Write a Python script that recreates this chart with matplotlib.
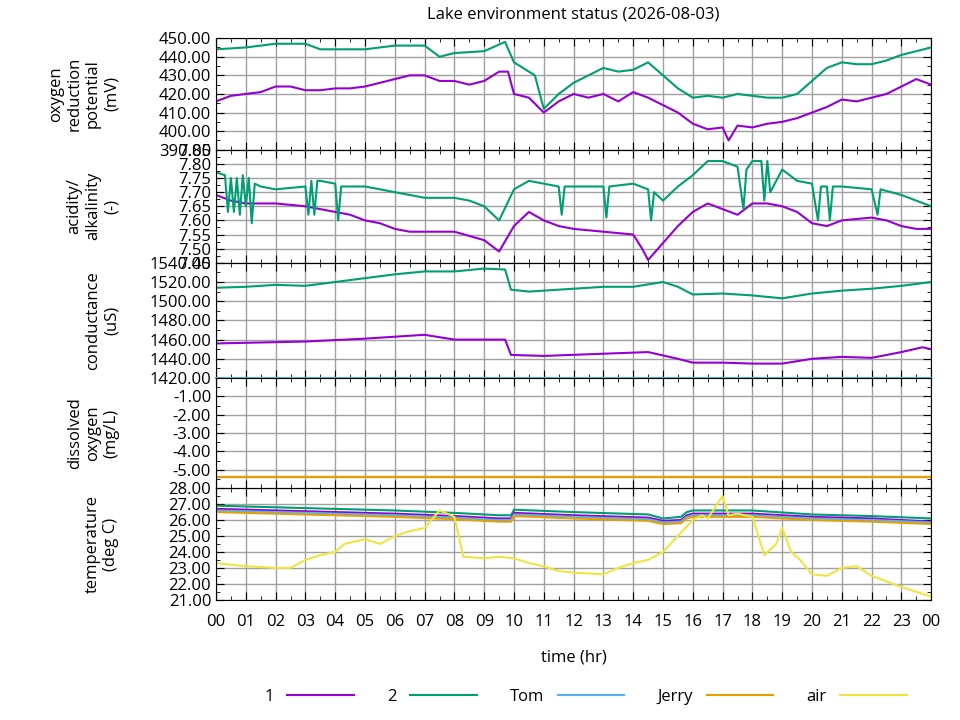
import matplotlib
matplotlib.use('Agg')
import matplotlib.pyplot as plt
from matplotlib.ticker import FormatStrFormatter, MultipleLocator, AutoMinorLocator

plt.rcParams['font.family'] = ['Open Sans', 'DejaVu Sans']

c1 = '#9400d3'
c2 = '#009e73'
c_tom = '#56b4e9'
c_jerry = '#e69f00'
c_air = '#f0e442'

# oxygen reduction potential (mV)
orp1_t = [0, 0.5, 1, 1.5, 2, 2.5, 3, 3.5, 4, 4.5, 5, 5.5, 6, 6.5, 7, 7.5, 8, 8.5, 9, 9.5, 9.8, 10,
          10.5, 11, 11.5, 12, 12.5, 13, 13.5, 14, 14.5, 15, 15.5, 16, 16.5, 17, 17.2, 17.5, 18, 18.5,
          19, 19.5, 20, 20.5, 21, 21.5, 22, 22.5, 23, 23.5, 24]
orp1_v = [416, 419, 420, 421, 424, 424, 422, 422, 423, 423, 424, 426, 428, 430, 430, 427, 427, 425,
          427, 432, 432, 420, 418, 410, 416, 420, 418, 420, 416, 421, 418, 414, 410, 404, 401, 402,
          395, 403, 402, 404, 405, 407, 410, 413, 417, 416, 418, 420, 424, 428, 425]
orp2_t = [0, 1, 2, 3, 3.5, 4, 5, 6, 7, 7.5, 8, 9, 9.7, 10, 10.7, 11, 11.5, 12, 12.5, 13, 13.5, 14,
          14.5, 15, 15.5, 16, 16.5, 17, 17.5, 18, 18.5, 19, 19.5, 20, 20.5, 21, 21.5, 22, 22.5, 23,
          23.5, 24]
orp2_v = [444, 445, 447, 447, 444, 444, 444, 446, 446, 440, 442, 443, 448, 437, 430, 412, 420, 426,
          430, 434, 432, 433, 437, 430, 423, 418, 419, 418, 420, 419, 418, 418, 420, 427, 434, 437,
          436, 436, 438, 441, 443, 445]

# acidity/alkalinity
ph1_t = [0, 0.5, 1, 2, 3, 3.5, 4, 4.5, 5, 5.5, 6, 6.5, 7, 8, 9, 9.5, 10, 10.5, 11, 11.5, 12, 13,
         14, 14.3, 14.5, 15, 15.5, 16, 16.5, 17, 17.5, 18, 18.5, 19, 19.5, 20, 20.5, 21, 22, 22.5,
         23, 23.5, 24]
ph1_v = [7.69, 7.67, 7.66, 7.66, 7.65, 7.64, 7.63, 7.62, 7.60, 7.59, 7.57, 7.56, 7.56, 7.56, 7.53,
         7.49, 7.58, 7.63, 7.60, 7.58, 7.57, 7.56, 7.55, 7.50, 7.46, 7.52, 7.58, 7.63, 7.66, 7.64,
         7.62, 7.66, 7.66, 7.65, 7.63, 7.59, 7.58, 7.60, 7.61, 7.60, 7.58, 7.57, 7.57]
ph2_t = [0, 0.3, 0.4, 0.5, 0.6, 0.7, 0.8, 0.9, 1.0, 1.1, 1.2, 1.3, 1.5, 2, 3, 3.1, 3.2, 3.3, 3.4,
         3.5, 4, 4.1, 4.2, 4.5, 5, 6, 7, 8, 8.5, 9, 9.5, 10, 10.5, 11, 11.5, 11.6, 11.7, 12, 13,
         13.1, 13.2, 14, 14.5, 14.6, 14.7, 15, 15.5, 16, 16.5, 17, 17.5, 17.7, 17.8, 18, 18.3,
         18.4, 18.5, 18.6, 19, 19.5, 20, 20.2, 20.3, 20.5, 20.6, 20.7, 21, 22, 22.2, 22.3, 23,
         23.5, 24]
ph2_v = [7.77, 7.76, 7.63, 7.75, 7.63, 7.75, 7.62, 7.76, 7.65, 7.75, 7.59, 7.73, 7.72, 7.71, 7.72,
         7.62, 7.74, 7.62, 7.74, 7.74, 7.73, 7.60, 7.72, 7.72, 7.72, 7.70, 7.68, 7.68, 7.67, 7.65,
         7.60, 7.71, 7.74, 7.73, 7.72, 7.62, 7.72, 7.72, 7.72, 7.61, 7.72, 7.73, 7.71, 7.60, 7.70,
         7.67, 7.72, 7.76, 7.81, 7.81, 7.79, 7.64, 7.78, 7.81, 7.81, 7.67, 7.81, 7.70, 7.78, 7.74,
         7.73, 7.60, 7.72, 7.72, 7.60, 7.72, 7.72, 7.71, 7.62, 7.71, 7.69, 7.67, 7.65]

# conductance (uS)
ec1_t = [0, 3, 5, 7, 8, 9.7, 9.9, 11, 14.5, 15.5, 16, 17, 18, 19, 20, 21, 22, 23, 23.7, 24]
ec1_v = [1456, 1458, 1461, 1465, 1460, 1460, 1444, 1443, 1447, 1440, 1436, 1436, 1435, 1435, 1440,
         1442, 1441, 1447, 1452, 1450]
ec2_t = [0, 1, 2, 3, 4, 5, 6, 7, 8, 9, 9.7, 9.9, 10.5, 12, 13, 14, 15, 15.5, 16, 17, 18, 19, 20,
         21, 22, 23, 24]
ec2_v = [1514, 1515, 1517, 1516, 1520, 1524, 1528, 1531, 1531, 1534, 1533, 1512, 1510, 1513, 1515,
         1515, 1520, 1515, 1507, 1508, 1506, 1503, 1508, 1511, 1513, 1516, 1520]

# dissolved oxygen (mg/L)
do_t = [0, 24]
do_tom = [0.0, 0.0]
do_rest = [-5.4, -5.4]

# temperature (deg C)
tw_t = [0, 2, 4, 6, 8, 9.5, 9.9, 10, 12, 14.5, 15, 15.6, 15.8, 16, 18, 20, 22, 24]
t2_v = [26.9, 26.8, 26.7, 26.6, 26.45, 26.3, 26.3, 26.65, 26.5, 26.35, 26.1, 26.2, 26.5, 26.6,
        26.6, 26.35, 26.25, 26.1]
t1_v = [26.7, 26.6, 26.5, 26.4, 26.25, 26.1, 26.1, 26.45, 26.3, 26.15, 25.95, 26.0, 26.3, 26.4,
        26.4, 26.2, 26.1, 25.9]
ttom_v = [26.6, 26.5, 26.4, 26.3, 26.15, 26.0, 26.0, 26.35, 26.2, 26.05, 25.85, 25.9, 26.2, 26.3,
          26.3, 26.1, 26.0, 25.85]
tjerry_v = [26.5, 26.4, 26.3, 26.2, 26.05, 25.9, 25.9, 26.25, 26.1, 25.95, 25.75, 25.8, 26.1,
            26.2, 26.2, 26.0, 25.9, 25.75]
air_t = [0, 1, 2, 2.5, 3, 3.5, 4, 4.3, 5, 5.5, 6, 6.5, 7, 7.5, 8, 8.3, 9, 9.5, 10, 10.5, 11, 11.5,
         12, 13, 13.5, 14, 14.5, 15, 15.5, 16, 16.3, 16.5, 17, 17.2, 17.5, 18, 18.4, 18.8, 19,
         19.3, 19.6, 20, 20.5, 21, 21.5, 22, 23, 23.5, 24]
air_v = [23.3, 23.1, 23.0, 23.0, 23.5, 23.8, 24.0, 24.5, 24.8, 24.5, 25.0, 25.3, 25.5, 26.6, 26.2,
         23.7, 23.6, 23.7, 23.6, 23.3, 23.1, 22.8, 22.7, 22.6, 23.0, 23.3, 23.5, 24.0, 25.0, 26.0,
         26.3, 26.1, 27.5, 26.3, 26.4, 26.2, 23.8, 24.5, 25.5, 24.0, 23.5, 22.6, 22.5, 23.0, 23.1,
         22.5, 21.8, 21.5, 21.2]

hour_labels = ['%02d' % (h % 24) for h in range(25)]

fig = plt.figure(figsize=(9.6, 7.2), dpi=100)
edges = [0.947, 0.792, 0.635, 0.475, 0.322, 0.167]
left, width = 0.225, 0.745
axes = []
for i in range(5):
    ax = fig.add_axes([left, edges[i + 1], width, edges[i] - edges[i + 1]])
    axes.append(ax)

lw = 1.5
axes[0].plot(orp1_t, orp1_v, color=c1, lw=lw)
axes[0].plot(orp2_t, orp2_v, color=c2, lw=lw)
axes[0].set_ylim(390, 450)
axes[0].yaxis.set_major_locator(MultipleLocator(10))

axes[1].plot(ph1_t, ph1_v, color=c1, lw=lw)
axes[1].plot(ph2_t, ph2_v, color=c2, lw=lw)
axes[1].set_ylim(7.45, 7.85)
axes[1].yaxis.set_major_locator(MultipleLocator(0.05))

axes[2].plot(ec1_t, ec1_v, color=c1, lw=lw)
axes[2].plot(ec2_t, ec2_v, color=c2, lw=lw)
axes[2].set_ylim(1420, 1540)
axes[2].yaxis.set_major_locator(MultipleLocator(20))

axes[3].plot(do_t, do_rest, color=c1, lw=lw)
axes[3].plot(do_t, do_rest, color=c2, lw=lw)
axes[3].plot(do_t, do_tom, color=c_tom, lw=lw, clip_on=False)
axes[3].plot(do_t, do_rest, color=c_air, lw=lw)
axes[3].plot(do_t, do_rest, color=c_jerry, lw=lw)
axes[3].set_ylim(-6, 0)
axes[3].set_yticks([-1, -2, -3, -4, -5])

axes[4].plot(tw_t, t2_v, color=c2, lw=lw, label='2')
axes[4].plot(tw_t, t1_v, color=c1, lw=lw, label='1')
axes[4].plot(tw_t, ttom_v, color=c_tom, lw=lw, label='Tom')
axes[4].plot(tw_t, tjerry_v, color=c_jerry, lw=lw, label='Jerry')
axes[4].plot(air_t, air_v, color=c_air, lw=lw, label='air')
axes[4].set_ylim(21, 28)
axes[4].yaxis.set_major_locator(MultipleLocator(1))

ylabels = ['oxygen\nreduction\npotential\n(mV)', 'acidity/\nalkalinity\n(-)',
           'conductance\n(uS)', 'dissolved\noxygen\n(mg/L)', 'temperature\n(deg C)']
for ax, lab in zip(axes, ylabels):
    ax.set_xlim(0, 24)
    ax.set_xticks(range(25))
    ax.xaxis.set_minor_locator(MultipleLocator(0.5))
    ax.yaxis.set_minor_locator(AutoMinorLocator(2))
    ax.yaxis.set_major_formatter(FormatStrFormatter('%.2f'))
    ax.grid(True, color='#a0a0a0', lw=1)
    ax.set_axisbelow(True)
    ax.tick_params(direction='in', which='both', top=True, right=True, labelsize=12, length=6)
    ax.tick_params(which='minor', length=3)
    ax.set_ylabel(lab, fontsize=12, labelpad=8)
    ax.yaxis.set_label_coords(-0.135, 0.5)
    if ax is not axes[4]:
        ax.set_xticklabels([])
    else:
        ax.set_xticklabels(hour_labels)
        ax.tick_params(axis='x', pad=10)
        ax.set_xlabel('time (hr)', fontsize=12, labelpad=14)

axes[0].set_title('Lake environment status (2026-08-03)', fontsize=12, pad=14)

handles, labels = axes[4].get_legend_handles_labels()
order = [1, 0, 2, 3, 4]
fig.legend([handles[i] for i in order], [labels[i] for i in order], loc='lower center',
           bbox_to_anchor=(0.61, 0.0), ncol=5, frameon=False, markerfirst=False,
           handlelength=4, columnspacing=2.0, fontsize=12)

fig.savefig('out.png', dpi=100)
